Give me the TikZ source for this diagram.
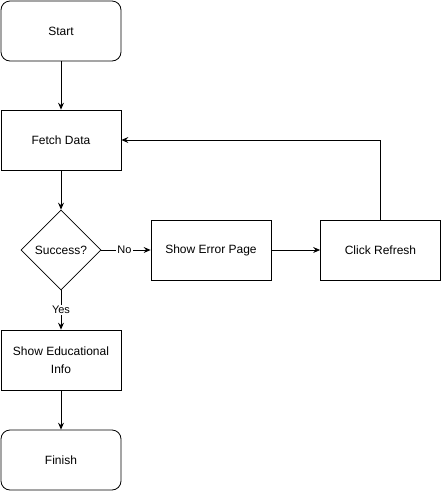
\documentclass[tikz,border=0pt]{standalone}
\usepackage{fontspec}
\setmainfont{Liberation Sans}
\usetikzlibrary{shapes.geometric,arrows.meta}
\begin{document}
\begin{tikzpicture}[x=1pt,y=-1pt,
  every node/.style={font=\fontsize{12}{14}\selectfont},
  box/.style={draw,line width=0.8pt,minimum width=120pt,minimum height=60pt,inner sep=0pt,align=center},
  rbox/.style={box,rounded corners=9pt},
  dia/.style={draw,line width=0.8pt,diamond,minimum width=80pt,minimum height=80pt,inner sep=0pt,aspect=1},
  conn/.style={line width=0.8pt,-{Stealth[length=7pt,width=6pt,inset=2.5pt]}},
  lbl/.style={fill=white,inner sep=1pt,font=\fontsize{11}{13}\selectfont}]
\useasboundingbox (0,0) rectangle (441,491);
\node[rbox] (start) at (61,31) {Start};
\node[box] (fetch) at (61,140) {Fetch Data};
\node[dia] (succ) at (61,250) {Success?};
\node[box] (err) at (211,250) {Show Error Page};
\node[box] (refresh) at (380.5,250) {Click Refresh};
\node[box] (edu) at (61,360) {Show Educational\\[4pt]Info};
\node[rbox] (finish) at (61,460) {Finish};
\draw[conn] (start) -- (fetch);
\draw[conn] (fetch) -- (succ);
\draw[conn] (succ) -- node[lbl,pos=0.47] {No} (err);
\draw[conn] (err) -- (refresh);
\draw[conn] (refresh.north) |- (fetch.east);
\draw[conn] (succ) -- node[lbl,pos=0.5] {Yes} (edu);
\draw[conn] (edu) -- (finish);
\end{tikzpicture}
\end{document}
